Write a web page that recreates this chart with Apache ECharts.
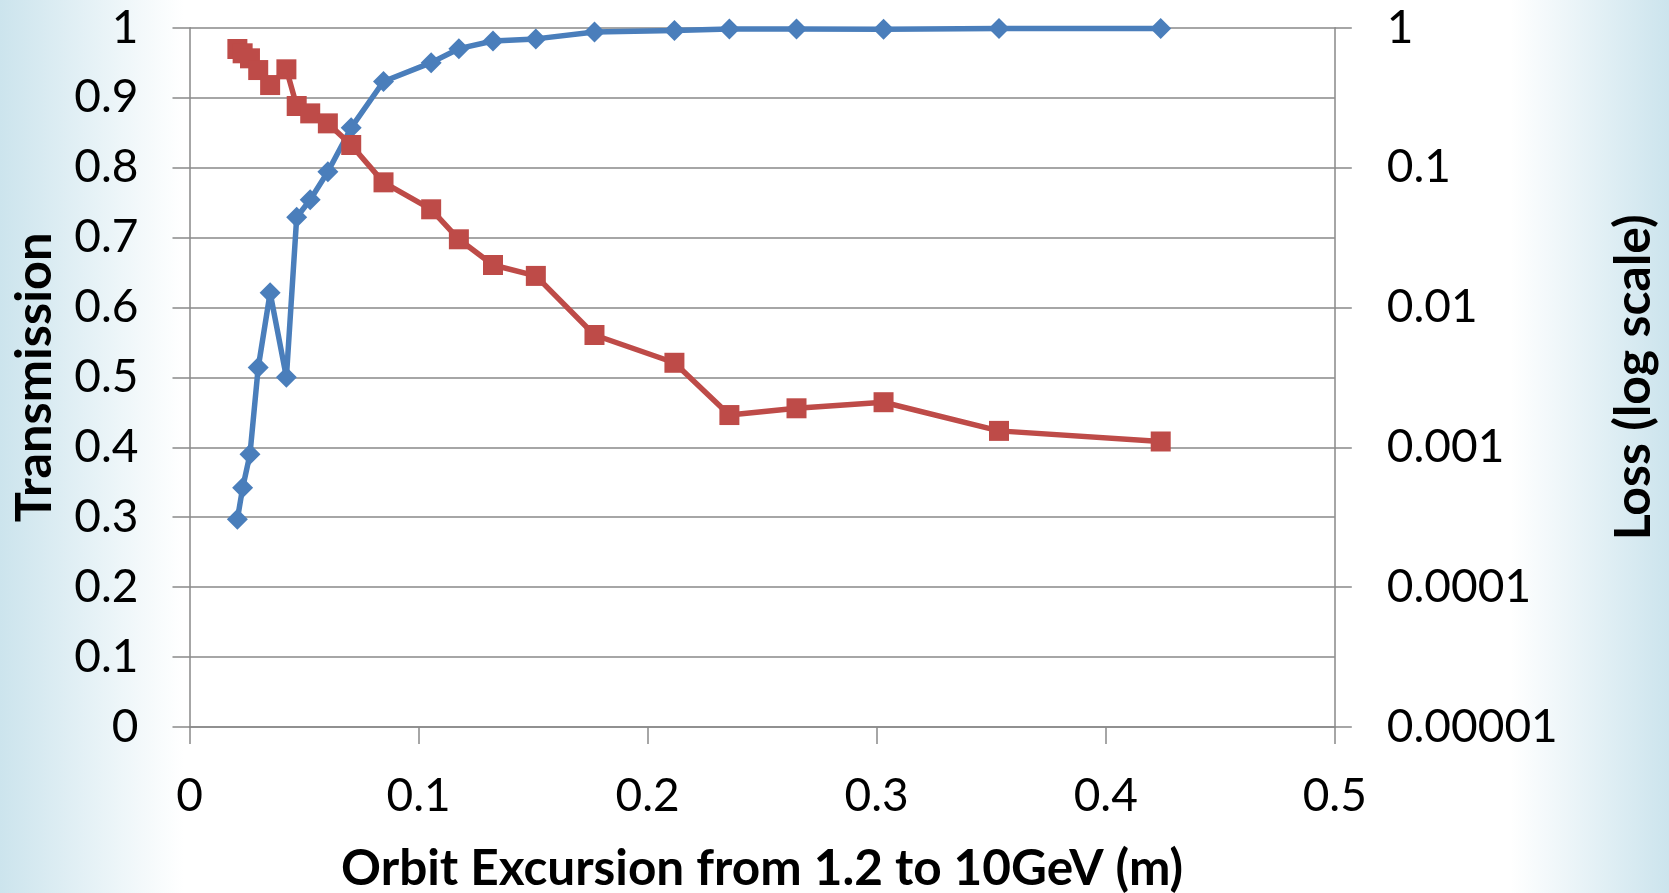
<!DOCTYPE html>
<html>
<head>
<meta charset="utf-8">
<title>Transmission and Loss vs Orbit Excursion</title>
<script src="https://cdn.jsdelivr.net/npm/echarts@6/dist/echarts.min.js"></script>
<style>
  html, body { margin: 0; padding: 0; width: 1669px; height: 893px; overflow: hidden; }
  #chart { width: 1669px; height: 893px; }
</style>
</head>
<body>
<div id="chart"></div>
<script>
// Orbit excursion between 1.2 and 10 GeV (m)
const excursion = [0.0209, 0.0232, 0.0264, 0.0300, 0.0352, 0.0423, 0.0468, 0.0527, 0.0604, 0.0706,
  0.0847, 0.1055, 0.1176, 0.1325, 0.1512, 0.1768, 0.2117, 0.2357, 0.2650, 0.3030, 0.3534, 0.4240];
// Fraction of particles transmitted
const transmission = [0.297, 0.342, 0.390, 0.514, 0.621, 0.500, 0.729, 0.754, 0.794, 0.857,
  0.923, 0.950, 0.970, 0.981, 0.984, 0.9937, 0.9960, 0.9983, 0.9981, 0.9979, 0.9987, 0.9989];
// Fraction lost (plotted on the logarithmic right axis)
const loss = [0.704, 0.656, 0.604, 0.498, 0.389, 0.504, 0.2755, 0.244, 0.207, 0.145,
  0.0784, 0.0503, 0.0307, 0.0201, 0.0168, 0.00635, 0.00402, 0.00170, 0.00190, 0.00210, 0.00131, 0.00110];

const xTickLabels = ['0', '0.1', '0.2', '0.3', '0.4', '0.5'];
const transmissionTickLabels = ['0', '0.1', '0.2', '0.3', '0.4', '0.5', '0.6', '0.7', '0.8', '0.9', '1'];
const lossTickLabels = ['0.00001', '0.0001', '0.001', '0.01', '0.1', '1'];

const axisGray = '#898989';
const textFont = 'Lato';

const chart = echarts.init(document.getElementById('chart'), null, { renderer: 'canvas' });

const tickLabelStyle = { fontFamily: textFont, fontSize: 46, color: '#000' };
const nameStyle = (size) => ({ fontFamily: textFont, fontWeight: 'bold', fontSize: size, color: '#000' });

const option = {
  animation: false,
  backgroundColor: {
    type: 'linear', x: 0, y: 0, x2: 1, y2: 0,
    colorStops: [
      { offset: 0, color: '#cce4ed' },
      { offset: 0.11, color: '#ffffff' },
      { offset: 0.905, color: '#ffffff' },
      { offset: 1, color: '#cce4ed' }
    ]
  },
  grid: {
    left: 189.5, right: 334.2, top: 27.7, bottom: 166,
    containLabel: false, outerBoundsMode: 'none'
  },
  xAxis: {
    type: 'value', min: 0, max: 0.5, interval: 0.1,
    name: 'Orbit Excursion from 1.2 to 10GeV (m)',
    nameLocation: 'middle', nameGap: 117,
    nameTextStyle: nameStyle(49.5),
    axisLine: { show: true, onZero: false, lineStyle: { color: axisGray, width: 1.5 } },
    axisTick: { show: true, inside: false, length: 17, lineStyle: { color: axisGray, width: 1.5 } },
    splitLine: { show: false },
    axisLabel: Object.assign({ margin: 46, formatter: (v) => xTickLabels[Math.round(v * 10)] }, tickLabelStyle)
  },
  yAxis: [
    {
      type: 'value', min: 0, max: 1, interval: 0.1, position: 'left',
      name: 'Transmission', nameLocation: 'middle', nameGap: 129, nameRotate: 90,
      nameTextStyle: nameStyle(50.5),
      axisLine: { show: true, lineStyle: { color: axisGray, width: 1.5 } },
      axisTick: { show: true, inside: false, length: 17, lineStyle: { color: axisGray, width: 1.5 } },
      splitLine: { show: true, lineStyle: { color: axisGray, width: 1.5 } },
      axisLabel: Object.assign({ margin: 51, formatter: (v) => transmissionTickLabels[Math.round(v * 10)] }, tickLabelStyle)
    },
    {
      type: 'log', logBase: 10, min: 0.00001, max: 1, position: 'right',
      name: 'Loss (log scale)', nameLocation: 'middle', nameGap: 274, nameRotate: 90,
      nameTextStyle: nameStyle(50),
      axisLine: { show: true, lineStyle: { color: axisGray, width: 1.5 } },
      axisTick: { show: true, inside: false, length: 17, lineStyle: { color: axisGray, width: 1.5 } },
      splitLine: { show: false },
      axisLabel: Object.assign({ margin: 52, formatter: (v) => lossTickLabels[Math.round(Math.log10(v)) + 5] }, tickLabelStyle)
    }
  ],
  series: [
    {
      name: 'Transmission', type: 'line', yAxisIndex: 0,
      data: excursion.map((x, i) => [x, transmission[i]]),
      symbol: 'diamond', symbolSize: 21, showSymbol: true,
      lineStyle: { color: '#4a7ebb', width: 5.5 },
      itemStyle: { color: '#4a7ebb' },
      z: 2
    },
    {
      name: 'Loss', type: 'line', yAxisIndex: 1,
      data: excursion.map((x, i) => [x, loss[i]]),
      symbol: 'rect', symbolSize: 20, showSymbol: true,
      lineStyle: { color: '#be4b48', width: 5.5 },
      itemStyle: { color: '#be4b48' },
      z: 3
    }
  ]
};

chart.setOption(option);
</script>
</body>
</html>
